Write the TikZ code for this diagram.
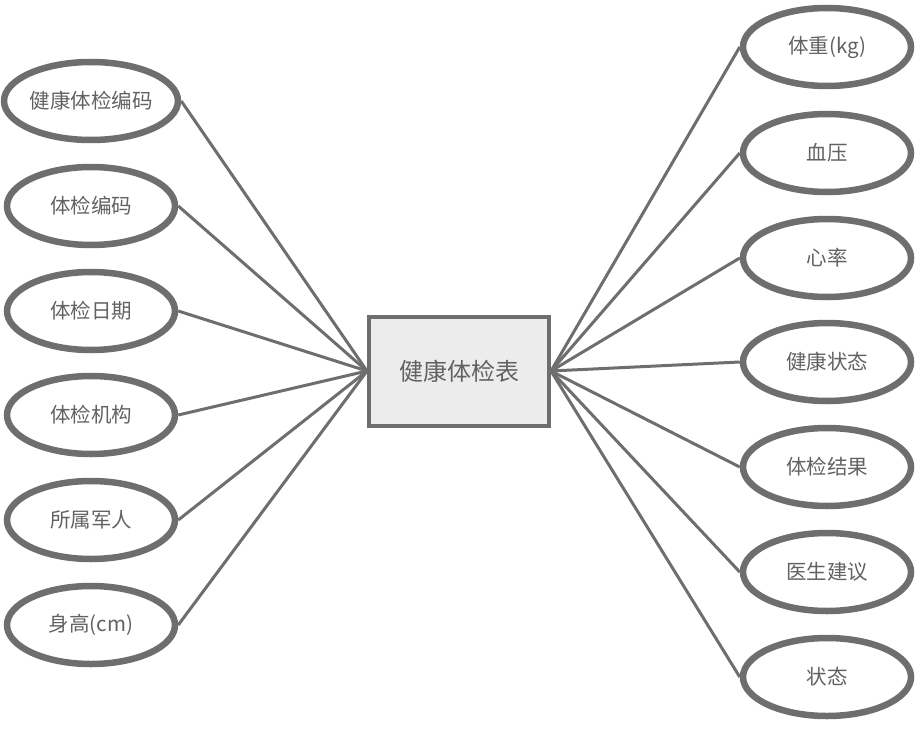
\documentclass[tikz,border=0pt]{standalone}
\usepackage{fontspec}
\setmainfont{Noto Sans CJK SC}
\usetikzlibrary{shapes.geometric}
\definecolor{edge}{HTML}{6E6E6E}
\definecolor{txt}{HTML}{626262}
\definecolor{boxfill}{HTML}{ECECEC}
\begin{document}
\begin{tikzpicture}[x=1pt,y=-1pt,
  attr/.style={ellipse,draw=edge,line width=6.5pt,fill=white,minimum width=168pt,minimum height=78pt,inner sep=0pt,text=txt,font=\fontsize{20.5}{20.5}\selectfont},
  ent/.style={rectangle,draw=edge,line width=4pt,fill=boxfill,minimum width=180pt,minimum height=109pt,text=txt,font=\fontsize{24}{24}\selectfont},
  link/.style={draw=edge,line width=3pt}]
\useasboundingbox (0,0) rectangle (917,741);
\node[ent] (c) at (459,371) {健康体检表};
\node[attr] (l1) at (91,101) {健康体检编码};
\node[attr] (l2) at (91,206) {体检编码};
\node[attr] (l3) at (91,311) {体检日期};
\node[attr] (l4) at (91,415) {体检机构};
\node[attr] (l5) at (91,520) {所属军人};
\node[attr] (l6) at (91,625) {身高(cm)};
\node[attr] (r1) at (827,47) {体重(kg)};
\node[attr] (r2) at (827,153) {血压};
\node[attr] (r3) at (827,258) {心率};
\node[attr] (r4) at (827,362) {健康状态};
\node[attr] (r5) at (827,467) {体检结果};
\node[attr] (r6) at (827,572) {医生建议};
\node[attr] (r7) at (827,677) {状态};
\foreach \n in {l1,l2,l3,l4,l5,l6} \draw[link] (\n.east) -- (c.west);
\foreach \n in {r1,r2,r3,r4,r5,r6,r7} \draw[link] (c.east) -- (\n.west);
\end{tikzpicture}
\end{document}
